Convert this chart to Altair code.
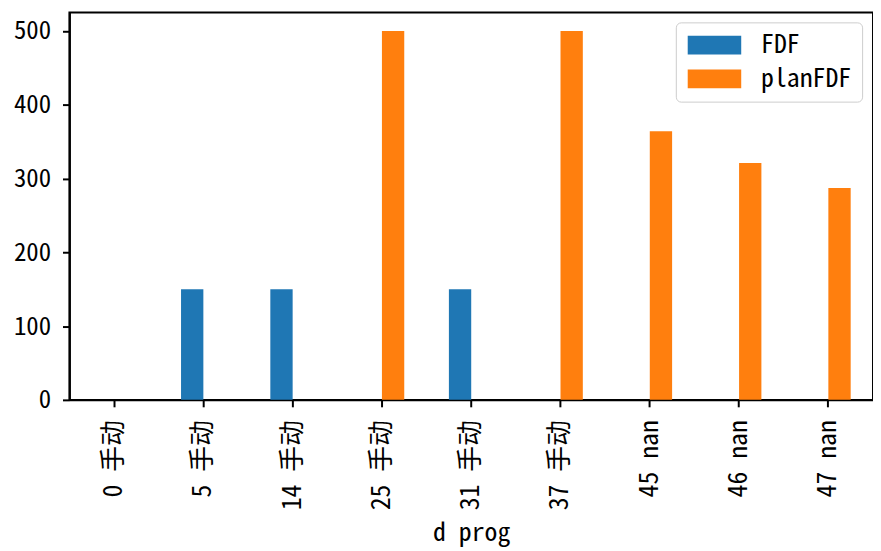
import altair as alt
import pandas as pd

categories = ["0 手动", "5 手动", "14 手动", "25 手动", "31 手动", "37 手动", "45 nan", "46 nan", "47 nan"]
series = ["FDF", "planFDF"]
fdf_values = [0, 150, 150, 0, 150, 0, None, None, None]
plan_values = [0, 0, 0, 500, 0, 500, 364, 321, 287]
colors = ["#1f77b4", "#ff7f0e"]
y_ticks = [0, 100, 200, 300, 400, 500]

rows = []
for c, f, p in zip(categories, fdf_values, plan_values):
    rows.append({"category": c, "series": "FDF", "value": f})
    rows.append({"category": c, "series": "planFDF", "value": p})
df = pd.DataFrame(rows)

FONT = "Noto Sans Mono CJK SC, Noto Sans CJK SC, DejaVu Sans, sans-serif"

chart = alt.Chart(df).mark_bar().encode(
    x=alt.X("category:N", sort=categories,
            scale=alt.Scale(paddingInner=0, paddingOuter=0),
            axis=alt.Axis(title="d prog", labelAngle=270, labelPadding=13,
                          labelFontSize=26, titleFontSize=26,
                          titleY=142, titleBaseline="alphabetic")),
    xOffset=alt.XOffset("series:N", sort=series,
                        scale=alt.Scale(paddingInner=0, paddingOuter=1)),
    y=alt.Y("value:Q", scale=alt.Scale(domain=[0, 525], nice=False),
            axis=alt.Axis(values=y_ticks, title=None, labelPadding=12,
                          labelFontSize=25)),
    color=alt.Color("series:N", scale=alt.Scale(domain=series, range=colors),
                    legend=alt.Legend(title=None, orient="none",
                                      legendX=612, legendY=10,
                                      symbolType="M-2.7,-0.95H2.7V0.95H-2.7Z",
                                      symbolSize=400, symbolStrokeWidth=0,
                                      symbolOpacity=1, symbolOffset=16,
                                      labelOffset=34, labelFont=FONT,
                                      labelFontSize=26, labelColor="black",
                                      padding=10, rowPadding=8,
                                      fillColor="white", strokeColor="#cccccc",
                                      cornerRadius=5)),
).properties(
    width=811, height=391,
    autosize=alt.AutoSizeParams(type="none"),
    padding={"left": 62, "top": 2, "right": 0, "bottom": 147},
).configure_view(
    stroke="black", strokeWidth=2
).configure_axis(
    domainColor="black", domainWidth=2, tickColor="black", tickWidth=2,
    tickSize=7, labelFont=FONT, labelColor="black",
    titleFont=FONT, titleFontWeight="normal",
    titleColor="black", grid=False
)

chart.save("out.html", embed_options={"renderer": "svg", "actions": False})
